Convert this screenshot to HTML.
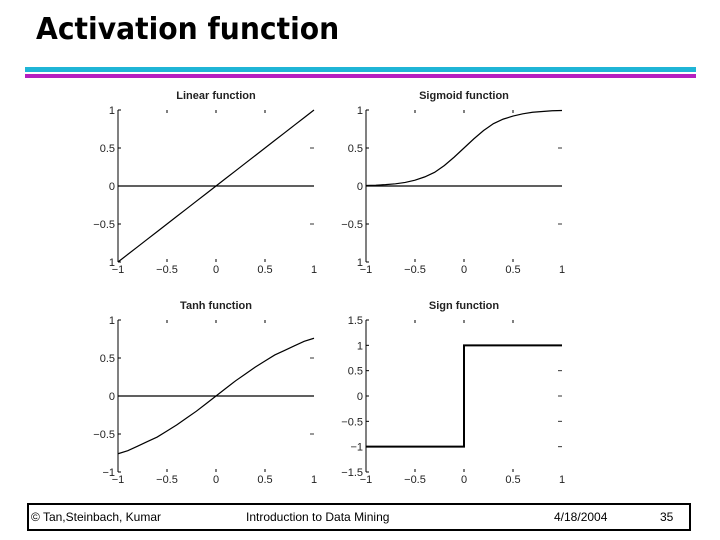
<!DOCTYPE html>
<html><head><meta charset="utf-8"><style>
body{margin:0;width:720px;height:540px;background:#fff;position:relative;overflow:hidden;font-family:"Liberation Sans",sans-serif}
#title{position:absolute;left:36px;top:12px;font-family:"DejaVu Sans",sans-serif;font-weight:bold;font-size:30px;color:#000;transform:scaleX(0.94);transform-origin:left}
#bar1{position:absolute;left:25px;top:67px;width:671px;height:5px;background:#1fb5d6}
#bar2{position:absolute;left:25px;top:74px;width:671px;height:4px;background:#b51fc0}
#footer{position:absolute;left:27px;top:503px;width:660px;height:24px;border:2px solid #000;font-size:12px}
#footer span{position:absolute;top:5px}
svg{position:absolute;left:0;top:0}
svg text{font-family:"Liberation Sans",sans-serif;font-size:11px;fill:#222}
</style></head><body>
<div id="title">Activation function</div>
<div id="bar1"></div>
<div id="bar2"></div>
<svg id="chart" width="720" height="540"></svg>
<div id="footer">
<span style="left:2px">© Tan,Steinbach, Kumar</span>
<span style="left:217px">Introduction to Data Mining</span>
<span style="left:525px">4/18/2004</span>
<span style="left:631px">35</span>
</div>
<script>
const xTicks=[-1,-0.5,0,0.5,1];
const xTickLabels=["\u22121","\u22120.5","0","0.5","1"];
const yTicks=[-1,-0.5,0,0.5,1];
const yTickLabels=["1","\u22120.5","0","0.5","1"];
const yTicksSign=[-1.5,-1,-0.5,0,0.5,1,1.5];
const yTickLabelsSign=["\u22121.5","\u22121","\u22120.5","0","0.5","1","1.5"];
const sampleX=[-1,-0.9,-0.8,-0.7,-0.6,-0.5,-0.4,-0.3,-0.2,-0.1,0,0.1,0.2,0.3,0.4,0.5,0.6,0.7,0.8,0.9,1];
const linearY=[-1,-0.9,-0.8,-0.7,-0.6,-0.5,-0.4,-0.3,-0.2,-0.1,0,0.1,0.2,0.3,0.4,0.5,0.6,0.7,0.8,0.9,1];
const sigmoidY=[0.007,0.011,0.018,0.029,0.047,0.076,0.12,0.18,0.27,0.38,0.5,0.62,0.73,0.82,0.88,0.92,0.95,0.97,0.98,0.99,0.993];
const tanhY=[-0.76,-0.72,-0.66,-0.60,-0.54,-0.46,-0.38,-0.29,-0.20,-0.10,0,0.10,0.20,0.29,0.38,0.46,0.54,0.60,0.66,0.72,0.76];
const signX=[-1,0,0,1];
const signY=[-1,-1,1,1];
const panels=[
 {name:"linear",title:"Linear function",x0:118,x1:314,yt:110,yb:262,ymin:-1,ymax:1,yt_:yTicks,yl:yTickLabels,xs:sampleX,ys:linearY,w:1.2},
 {name:"sigmoid",title:"Sigmoid function",x0:366,x1:562,yt:110,yb:262,ymin:-1,ymax:1,yt_:yTicks,yl:yTickLabels,xs:sampleX,ys:sigmoidY,w:1.2},
 {name:"tanh",title:"Tanh function",x0:118,x1:314,yt:320,yb:472,ymin:-1,ymax:1,yt_:yTicks,yl:["\u22121","\u22120.5","0","0.5","1"],xs:sampleX,ys:tanhY,w:1.2},
 {name:"sign",title:"Sign function",x0:366,x1:562,yt:320,yb:472,ymin:-1.5,ymax:1.5,yt_:yTicksSign,yl:yTickLabelsSign,xs:signX,ys:signY,w:2}
];
const svg=document.getElementById('chart');
const NS="http://www.w3.org/2000/svg";
function mk(t,a){const e=document.createElementNS(NS,t);for(const k in a)e.setAttribute(k,a[k]);svg.appendChild(e);return e;}
panels.forEach(p=>{
 const sx=v=>p.x0+(v+1)/2*(p.x1-p.x0);
 const sy=v=>p.yb-(v-p.ymin)/(p.ymax-p.ymin)*(p.yb-p.yt);
 let e=mk('text',{x:(p.x0+p.x1)/2,y:p.yt-11,'text-anchor':'middle','font-weight':'bold'});e.textContent=p.title;
 
 
 e=mk('line',{x1:p.x0,y1:p.yt,x2:p.x0,y2:p.yb,stroke:'#000','stroke-width':1});
 
 
 p.yt_.forEach((v,i)=>{
  const y=sy(v);
  let t=mk('text',{x:p.x0-3,y:y+4,'text-anchor':'end'});t.textContent=p.yl[i];
  
  
  mk('line',{x1:p.x0,y1:y,x2:p.x0+3,y2:y,stroke:'#000'});
  if(v>p.ymin&&v<p.ymax) mk('line',{x1:p.x1-4,y1:y,x2:p.x1,y2:y,stroke:'#333'});
 });
 xTicks.forEach((v,i)=>{
  const x=sx(v);
  let t=mk('text',{x:x,y:p.yb+11,'text-anchor':'middle'});t.textContent=xTickLabels[i];
  
  
  if(i>0&&i<4){mk('line',{x1:x,y1:p.yt,x2:x,y2:p.yt+3,stroke:'#000'});mk('line',{x1:x,y1:p.yb-3,x2:x,y2:p.yb,stroke:'#000'});}
 });
 if(p.name!=='sign'){
  e=mk('line',{x1:p.x0,y1:sy(0),x2:p.x1,y2:sy(0),stroke:'#000','stroke-width':1.2});
  
  
 }
 const pts=p.xs.map((v,i)=>sx(v)+','+sy(p.ys[i])).join(' ');
 e=mk('polyline',{points:pts,fill:'none',stroke:'#000','stroke-width':p.w});
 
 
});
</script>
</body></html>
